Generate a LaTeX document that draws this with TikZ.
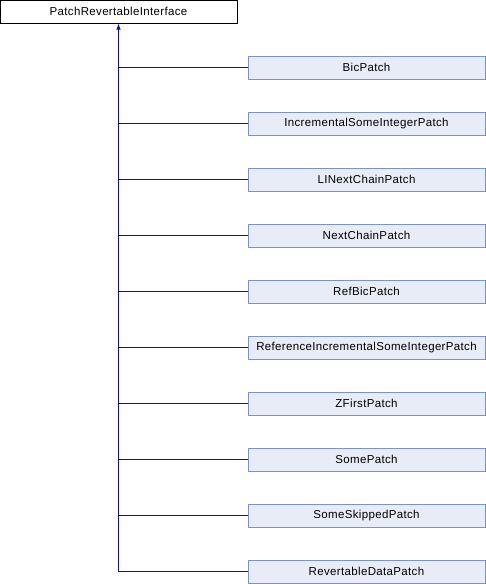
\documentclass[tikz,border=0pt]{standalone}
\usepackage{fontspec}
\setmainfont{Liberation Sans}[LetterSpace=3]
\usepackage{xcolor}
\usetikzlibrary{positioning, arrows.meta}
\definecolor{kidfill}{HTML}{E8ECF6}
\definecolor{kidline}{HTML}{7B93C7}
\definecolor{edgeblue}{HTML}{10109A}

\tikzset{
  classbox/.style={draw, line width=1pt, minimum width=237pt, minimum height=23pt,
    inner sep=0pt, font=\fontsize{11.5}{12}\selectfont},
  kidbox/.style={classbox, draw=kidline, fill=kidfill},
  inherit/.style={draw=edgeblue, line width=1pt}
}

\begin{document}
\begin{tikzpicture}[x=1pt, y=-1pt]
    \useasboundingbox (0,0) rectangle (486,584);
    \node[classbox, fill=white] (base) at (118.5,11.5) {PatchRevertableInterface};
    % derived classes, one row each
    \foreach \name [count=\i] in {BicPatch, IncrementalSomeIntegerPatch, LINextChainPatch,
        NextChainPatch, RefBicPatch, ReferenceIncrementalSomeIntegerPatch, ZFirstPatch,
        SomePatch, SomeSkippedPatch, RevertableDataPatch}
      \node[kidbox] (kid\i) at (366.5,{11.5+56*\i}) {\name};
    \draw[inherit, -{Latex[length=6pt, width=4.5pt]}] (kid10.west) -| (base.south);
    \foreach \i in {1,...,9}
      \draw[inherit] (kid\i.west) -- (kid\i.west -| base.south);
  \end{tikzpicture}
\end{document}
